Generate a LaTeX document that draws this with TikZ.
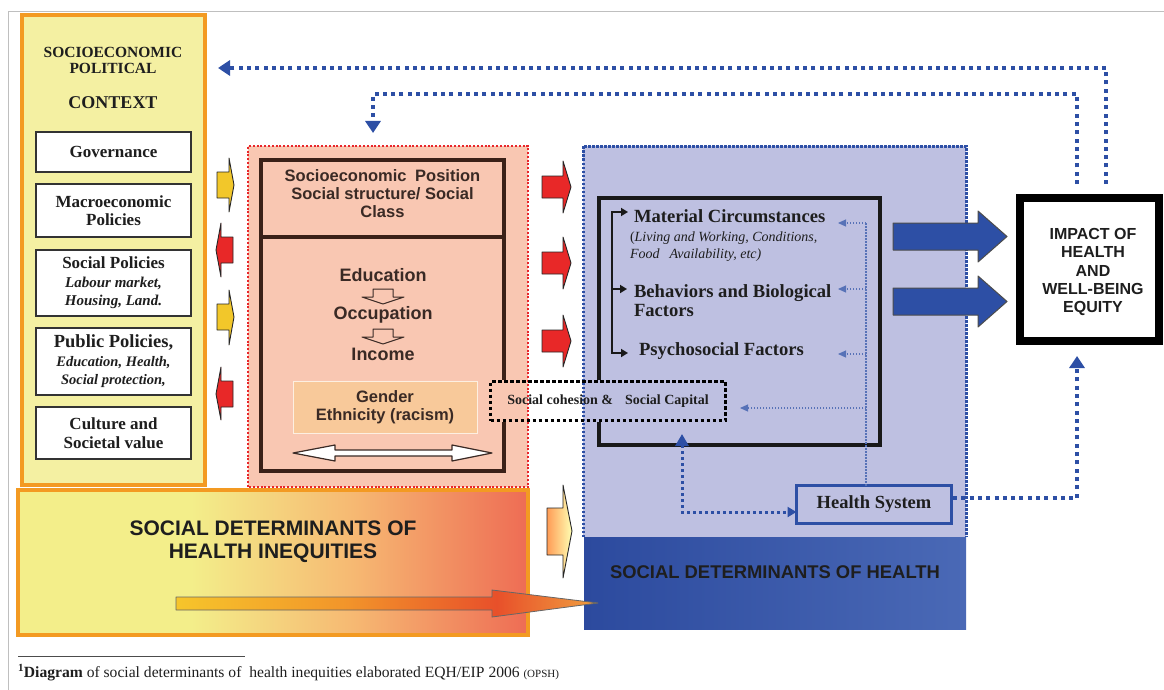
\documentclass[tikz,border=0pt]{standalone}
\usepackage{fontspec}
\setmainfont{Liberation Serif}
\setsansfont{Liberation Sans}
\usetikzlibrary{arrows.meta}
\definecolor{ctxY}{HTML}{F4F0A2}
\definecolor{orB}{HTML}{F39A22}
\definecolor{pinkF}{HTML}{F9C7B2}
\definecolor{redD}{HTML}{E8262A}
\definecolor{lavF}{HTML}{BEC0E1}
\definecolor{blueD}{HTML}{2D4FA5}
\definecolor{brownD}{HTML}{3B2118}
\definecolor{txt}{HTML}{1E1E1E}
\definecolor{ptxt}{HTML}{3A2A25}
\definecolor{sy}{HTML}{F3EE8A}
\definecolor{so}{HTML}{F6B872}
\definecolor{sr}{HTML}{EE6C54}
\definecolor{db1}{HTML}{2C4A9E}
\definecolor{db2}{HTML}{4A69B6}
\definecolor{arY}{HTML}{F2C72A}
\definecolor{arR}{HTML}{E82828}
\definecolor{ay}{HTML}{F6C52B}
\definecolor{ao}{HTML}{F2952A}
\definecolor{ar}{HTML}{E8502A}
\definecolor{ao2}{HTML}{F0A040}
\definecolor{gend}{HTML}{F8C99A}
\pgfdeclarehorizontalshading{sdhi}{100bp}{color(0bp)=(sy); color(25bp)=(sy); color(42bp)=(sy); color(58bp)=(so); color(75bp)=(sr); color(100bp)=(sr)}
\pgfdeclarehorizontalshading{garrow}{100bp}{color(0bp)=(ay); color(25bp)=(ay); color(45bp)=(ao); color(63bp)=(ar); color(75bp)=(ao2); color(100bp)=(ao2)}
\begin{document}
\begin{tikzpicture}[x=1pt,y=-1pt,
  every node/.style={inner sep=0pt,outer sep=0pt,text=txt},
  wbox/.style={draw=black!80,line width=1.6pt,fill=white,minimum width=155pt,align=center},
  serB/.style={font=\fontsize{17}{18.5}\selectfont\bfseries,align=center},
  sanB/.style={font=\sffamily\bfseries\fontsize{16.5}{18}\selectfont,align=center,text=ptxt},
  bigdot/.style={blueD,line width=4pt,dash pattern=on 4pt off 4.3pt},
  middot/.style={blueD,line width=3pt,dash pattern=on 3pt off 3pt},
  thindot/.style={blueD!80!white,line width=1.1pt,dash pattern=on 1.5pt off 1.5pt},
  tipB/.style={-{Triangle[width=15pt,length=12pt]}},
  tipT/.style={-{Triangle[width=7pt,length=8pt]}},
  blk/.style={draw=black!85,line width=0.9pt,line join=round},
]
\useasboundingbox (0,0) rectangle (1164,690);
\draw[black!25,line width=1pt] (8,690) -- (8,12) -- (1164,12);

% background fills
\node[fill=pinkF,minimum width=280pt,minimum height=341pt,anchor=north west] (sdpink) at (248,146) {};
\node[fill=lavF,minimum width=383pt,minimum height=391pt,anchor=north west] (sdblue) at (583,146) {};

% frames
\node[draw=brownD,line width=4pt,minimum width=243pt,minimum height=311pt,anchor=north west] (inner) at (261,160) {};
\node[draw=brownD,line width=4pt,minimum width=243pt,minimum height=77pt,anchor=north west] (sep) at (261,160) {};
\node[draw=black!90,line width=3.5pt,minimum width=281pt,minimum height=247pt,anchor=north west] (frame) at (599,198) {};

% cohesion patches
\fill[pinkF] (489,380) rectangle (528,422);
\fill[white] (528,380) rectangle (583,422);
\fill[lavF] (583,380) rectangle (727,422);

% dotted borders
\draw[redD,line width=2.5pt,dash pattern=on 2pt off 1.8pt] (sdpink.south west) rectangle (sdpink.north east);
\draw[blueD,line width=3pt,dash pattern=on 2.5pt off 1.5pt] (sdblue.south west) -- (sdblue.north west) -- (sdblue.north east) -- (sdblue.south east);

% dark blue box
\node[left color=db1,right color=db2,minimum width=382pt,minimum height=92pt,anchor=north west] (sdh) at (584,537) {};
\node[font=\sffamily\bfseries\fontsize{18.4}{20}\selectfont] (sdhT) at (775,572) {SOCIAL DETERMINANTS OF HEALTH};

% context box
\node[draw=orB,line width=4pt,fill=ctxY,minimum width=183pt,minimum height=470pt,anchor=north west] (ctx) at (22,15) {};
% bottom orange box
\node[shade,shading=sdhi,draw=orB,line width=4pt,minimum width=510pt,minimum height=145pt,anchor=north west] (sdhi) at (18,490) {};
\node[font=\sffamily\bfseries\fontsize{21}{23}\selectfont,align=center] (sdhiT) at (273,541.5) {SOCIAL DETERMINANTS OF\\HEALTH INEQUITIES};

% gradient arrow
\shade[shading=garrow,draw=black!60,line width=0.8pt,line join=round]
  (176,597) -- (492,597) -- (492,590) -- (598,603) -- (492,617) -- (492,610) -- (176,610) -- cycle;

% context texts
\node[font=\fontsize{15.5}{16}\selectfont\bfseries,align=center] (ctxT) at (113,60) {SOCIOECONOMIC\\POLITICAL};
\node[font=\fontsize{18}{20}\selectfont\bfseries] (ctxC) at (113,103) {CONTEXT};
\node[wbox,minimum height=40pt,serB] (gov) at (113.5,152) {Governance};
\node[wbox,minimum height=53pt,serB] (macro) at (113.5,210.5) {Macroeconomic\\Policies};
\node[wbox,minimum height=66pt,serB] (socpol) at (113.5,283) {Social Policies\\{\fontsize{15}{17}\selectfont\itshape Labour market,}\\{\fontsize{15}{17}\selectfont\itshape Housing, Land.}};
\node[wbox,minimum height=67pt,serB] (pubpol) at (113.5,361.5) {{\fontsize{18.5}{19}\selectfont Public Policies,}\\{\fontsize{14.5}{17}\selectfont\itshape Education, Health,}\\{\fontsize{14.5}{17}\selectfont\itshape Social protection,}};
\node[wbox,minimum height=52pt,serB] (cult) at (113.5,433) {Culture and\\Societal value};

% small left arrows
\draw[blk,fill=arY] (217,172) -- (229,172) -- (229,158) -- (234,185) -- (229,212) -- (229,198) -- (217,198) -- cycle;
\draw[blk,fill=arR] (233,237) -- (221,237) -- (221,223) -- (216,250) -- (221,277) -- (221,263) -- (233,263) -- cycle;
\draw[blk,fill=arY] (217,304) -- (229,304) -- (229,290) -- (234,317) -- (229,345) -- (229,330) -- (217,330) -- cycle;
\draw[blk,fill=arR] (233,381) -- (221,381) -- (221,367) -- (216,394) -- (221,420) -- (221,407) -- (233,407) -- cycle;

% red arrows middle
\foreach \c in {187,263,341}{
  \draw[blk,fill=arR] (542,\c-11) -- (563,\c-11) -- (563,\c-26) -- (571,\c) -- (563,\c+26) -- (563,\c+11) -- (542,\c+11) -- cycle;
}
% peach arrow
\draw[blk,left color=orange!55!pink,right color=yellow!30!white] (547,508) -- (563,508) -- (563,485) -- (572,531) -- (563,578) -- (563,555) -- (547,555) -- cycle;

% pink box texts
\node[sanB] (sepT) at (382.5,194) {Socioeconomic\hspace{4pt} Position\\Social structure/ Social\\Class};
\node[sanB,font=\sffamily\bfseries\fontsize{18}{20}\selectfont] (edu) at (383,275) {Education};
\node[sanB,font=\sffamily\bfseries\fontsize{18}{20}\selectfont] (occ) at (383,315) {Occupation};
\node[sanB,font=\sffamily\bfseries\fontsize{18}{20}\selectfont] (inc) at (383,354) {Income};
\draw[draw=ptxt,fill=pinkF,line width=1pt,line join=round] (373,289) -- (393,289) -- (393,297) -- (404,297) -- (383,304) -- (362,297) -- (373,297) -- cycle;
\draw[draw=ptxt,fill=pinkF,line width=1pt,line join=round] (373,329) -- (393,329) -- (393,337) -- (404,337) -- (383,344) -- (362,337) -- (373,337) -- cycle;
\node[fill=gend,draw=white!70!gend,line width=1pt,minimum width=184pt,minimum height=52pt,sanB] (gender) at (385,407) {Gender\\Ethnicity (racism)};
\draw[draw=ptxt,fill=white,line width=1.2pt,line join=round] (293,453) -- (335,445) -- (335,450) -- (452,450) -- (452,445) -- (492,453) -- (452,461) -- (452,456) -- (335,456) -- (335,461) -- cycle;

% cohesion box
\node[draw=black,line width=3.5pt,dash pattern=on 3.5pt off 2.5pt,minimum width=235pt,minimum height=39pt,font=\fontsize{14}{16}\selectfont\bfseries] (coh) at (608,401) {Social cohesion \&\hspace{12pt}Social Capital};

% blue box texts
\node[anchor=west,font=\fontsize{18.6}{20}\selectfont\bfseries] (mat) at (634,216) {Material Circumstances};
\node[anchor=west,font=\fontsize{14}{16}\selectfont] (matI) at (630,238) {(\textit{Living and Working, Conditions,}};
\node[anchor=west,font=\fontsize{14}{16}\selectfont] (matJ) at (630,255) {\textit{Food\hspace{10pt}Availability, etc)}};
\node[anchor=west,font=\fontsize{18.6}{19}\selectfont\bfseries,align=left] (beh) at (634,300.5) {Behaviors and Biological\\Factors};
\node[anchor=west,font=\fontsize{18.6}{20}\selectfont\bfseries] (psy) at (639,351) {Psychosocial Factors};

% bracket
\coordinate (bt) at (612,212);
\coordinate (bm) at (612,289);
\coordinate (bb) at (612,353);
\coordinate (btt) at (628,212);
\coordinate (bbt) at (628,353);
\draw[black!90,line width=2.5pt,{Triangle[width=8pt,length=7pt]}-{Triangle[width=8pt,length=7pt]}] (btt) -- (bt) -- (bb) -- (bbt);
\draw[black!90,line width=2.5pt,-{Triangle[width=8pt,length=7pt]}] (bm) -- ++(15,0);

% health system
\node[draw=blueD,line width=3pt,fill=lavF,minimum width=155pt,minimum height=38pt,font=\fontsize{18.5}{20}\selectfont\bfseries] (hs) at (874,504.5) {Health System};

% thin dotted arrows
\coordinate (vx) at (866,223);
\coordinate (cohT) at (740,408);
\draw[thindot] (hs.north -| vx) -- (vx);
\draw[thindot,tipT] (vx) -- (838,223);
\draw[thindot,tipT] (866,289) -- (838,289);
\draw[thindot,tipT] (866,354) -- (838,354);
\draw[thindot,tipT] (866,408) -- (cohT);

% impact box
\node[draw=black,line width=8pt,fill=white,minimum width=139pt,minimum height=143pt] (impact) at (1089.5,269.5) {};
\node[font=\sffamily\bfseries\fontsize{16}{18.2}\selectfont,align=center] (impT) at (1093,272) {IMPACT OF\\HEALTH\\AND\\WELL-BEING\\EQUITY};

% big blue arrows
\foreach \c in {236.5,301.5}{
  \draw[draw=black!70,fill=blueD,line width=1pt,line join=round] (893,\c-13.5) -- (978,\c-13.5) -- (978,\c-25.5) -- (1007,\c) -- (978,\c+25.5) -- (978,\c+13.5) -- (893,\c+13.5) -- cycle;
}

% feedback dotted arrows
\coordinate (o1) at (1106,184);
\coordinate (o2) at (1106,68);
\coordinate (o3) at (218,68);
\draw[bigdot,tipB] (o1) -- (o2) -- (o3);
\coordinate (i1) at (1077,184);
\coordinate (i2) at (1077,94);
\coordinate (i3) at (373,94);
\coordinate (i4) at (373,133);
\draw[bigdot,tipB] (i1) -- (i2) -- (i3) -- (i4);
\coordinate (h1) at (953,498);
\coordinate (h2) at (1077,498);
\coordinate (h3) at (1077,356);
\draw[bigdot,tipB] (h1) -- (h2) -- (h3);
\coordinate (f1) at (682,434);
\coordinate (f2) at (682,512);
\draw[middot,{Triangle[width=13pt,length=12pt]}-{Triangle[width=10pt,length=9pt]}] (f1) -- (f2) -- (hs.west |- f2);

% footnote
\draw[black!70,line width=1pt] (18,656) -- (245,656);
\node[anchor=base west,font=\fontsize{15.6}{17}\selectfont] (fn) at (18,677) {\textsuperscript{\textbf{1}}\textbf{Diagram} of social determinants of\hspace{4pt} health inequities elaborated EQH/EIP 2006 {\fontsize{11}{12}\selectfont(OPSH)}};
\end{tikzpicture}
\end{document}
